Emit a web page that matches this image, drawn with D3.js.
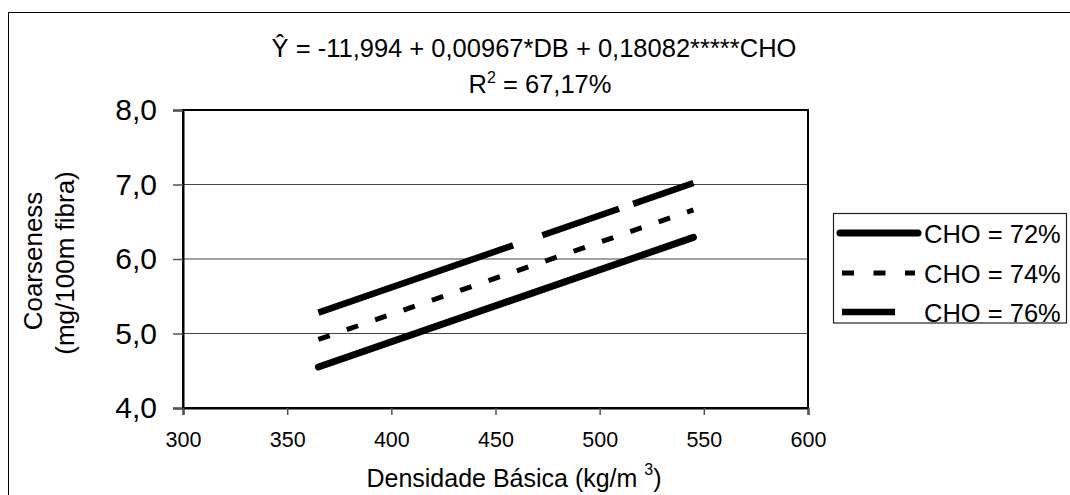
<!DOCTYPE html>
<html>
<head>
<meta charset="utf-8">
<script src="https://cdn.jsdelivr.net/npm/d3@7"></script>
<style>
  html, body { margin: 0; padding: 0; background: #fff; }
  svg { display: block; font-family: "Liberation Sans", Arial, sans-serif; }
</style>
</head>
<body>
<svg id="chart" width="1070" height="495"></svg>
<script>
// ---- data ----
const densidade = [365, 545];                 // DB (kg/m3), start/end of each line
const cho72 = [4.55, 6.29];
const cho74 = [4.92, 6.66];
const cho76 = [5.28, 7.02];
const seriesNames = ["CHO = 72%", "CHO = 74%", "CHO = 76%"];
const xTicks = [300, 350, 400, 450, 500, 550, 600];
const yTicks = [4, 5, 6, 7, 8];

const svg = d3.select("#chart");
const W = 1070, H = 495;

// outer frame
svg.append("rect").attr("x", 8.5).attr("y", 12.5).attr("width", W + 10).attr("height", H + 10)
  .attr("fill", "#fff").attr("stroke", "#000").attr("stroke-width", 1);

const x = d3.scaleLinear().domain([300, 600]).range([183, 808]);
const y = d3.scaleLinear().domain([4, 8]).range([408, 110]);

const fmt = d => d3.format(".1f")(d).replace(".", ",");

// gridlines
svg.append("g")
  .selectAll("line").data(yTicks.filter(d => d > 4 && d < 8)).join("line")
  .attr("x1", x(300)).attr("x2", x(600))
  .attr("y1", d => y(d)).attr("y2", d => y(d))
  .attr("stroke", "#444").attr("stroke-width", 1.2);

// plot border
svg.append("rect").attr("x", x(300)).attr("y", y(8))
  .attr("width", x(600) - x(300)).attr("height", y(4) - y(8))
  .attr("fill", "none").attr("stroke", "#000").attr("stroke-width", 2);

// y axis
const yAxis = svg.append("g").attr("transform", `translate(${x(300)},0)`)
  .call(d3.axisLeft(y).tickValues(yTicks).tickFormat(fmt).tickSize(10).tickPadding(16));
yAxis.select(".domain").attr("stroke", "#000").attr("stroke-width", 2);
yAxis.selectAll(".tick line").attr("stroke", "#555").attr("stroke-width", 1.5);
yAxis.selectAll(".tick text").attr("font-size", 30).attr("fill", "#000")
  .attr("font-family", "'Liberation Sans', Arial, sans-serif");

// x axis
const xAxis = svg.append("g").attr("transform", `translate(0,${y(4)})`)
  .call(d3.axisBottom(x).tickValues(xTicks).tickFormat(d3.format("d")).tickSize(7).tickPadding(17));
xAxis.select(".domain").attr("stroke", "#000").attr("stroke-width", 2);
xAxis.selectAll(".tick line").attr("stroke", "#555").attr("stroke-width", 1.5);
xAxis.selectAll(".tick text").attr("font-size", 21.5).attr("fill", "#000")
  .attr("font-family", "'Liberation Sans', Arial, sans-serif");

// series lines
const line = d3.line().x(d => x(d[0])).y(d => y(d[1]));
const zipS = vals => densidade.map((d, i) => [d, vals[i]]);

svg.append("path").datum(zipS(cho72)).attr("d", line)
  .attr("fill", "none").attr("stroke", "#000").attr("stroke-width", 7)
  .attr("stroke-linecap", "round");
svg.append("path").datum(zipS(cho74)).attr("d", line)
  .attr("fill", "none").attr("stroke", "#000").attr("stroke-width", 5)
  .attr("stroke-dasharray", "12,18");
svg.append("path").datum(zipS(cho76)).attr("d", line)
  .attr("fill", "none").attr("stroke", "#000").attr("stroke-width", 6.5)
  .attr("stroke-dasharray", "206,31,81,15,80,20");

// title
const title = svg.append("g").attr("font-size", 25.5).attr("fill", "#000").attr("text-anchor", "middle");
title.append("text").attr("x", 534).attr("y", 57)
  .text("\u0176 = -11,994 + 0,00967*DB + 0,18082*****CHO");
const t2 = title.append("text").attr("x", 540).attr("y", 93);
t2.append("tspan").text("R");
t2.append("tspan").attr("font-size", 16).attr("dy", -10).text("2");
t2.append("tspan").attr("dy", 10).text(" = 67,17%");

// y axis title
const yt = svg.append("text").attr("font-size", 26).attr("text-anchor", "middle")
  .attr("transform", "translate(42,261) rotate(-90)");
yt.text("Coarseness");
svg.append("text").attr("font-size", 26).attr("text-anchor", "middle")
  .attr("transform", "translate(74,263) rotate(-90)")
  .text("(mg/100m fibra)");

// x axis title
const xt = svg.append("text").attr("x", 514).attr("y", 487)
  .attr("font-size", 25).attr("text-anchor", "middle");
xt.append("tspan").text("Densidade Básica (kg/m ");
xt.append("tspan").attr("font-size", 16).attr("dy", -12).text("3");
xt.append("tspan").attr("dy", 12).text(")");

// legend
const lg = svg.append("g");
lg.append("rect").attr("x", 833.5).attr("y", 213.5).attr("width", 233).attr("height", 109.5)
  .attr("fill", "#fff").attr("stroke", "#222").attr("stroke-width", 1.2);
const rows = [243, 283, 322];
const samples = [
  { x1: 840, x2: 918, w: 7, dash: null, cap: "round" },
  { x1: 842, x2: 915, w: 5, dash: "12,19.5", cap: "butt" },
  { x1: 842, x2: 895, w: 6.5, dash: null, cap: "butt" }
];
seriesNames.forEach((name, i) => {
  const s = samples[i];
  const ly = rows[i] - 10;
  const l = lg.append("line").attr("x1", s.x1).attr("x2", s.x2).attr("y1", ly).attr("y2", ly)
    .attr("stroke", "#000").attr("stroke-width", s.w).attr("stroke-linecap", s.cap);
  if (s.dash) l.attr("stroke-dasharray", s.dash);
  lg.append("text").attr("x", 924).attr("y", rows[i]).attr("font-size", 25.5).text(name);
});
</script>
</body>
</html>
